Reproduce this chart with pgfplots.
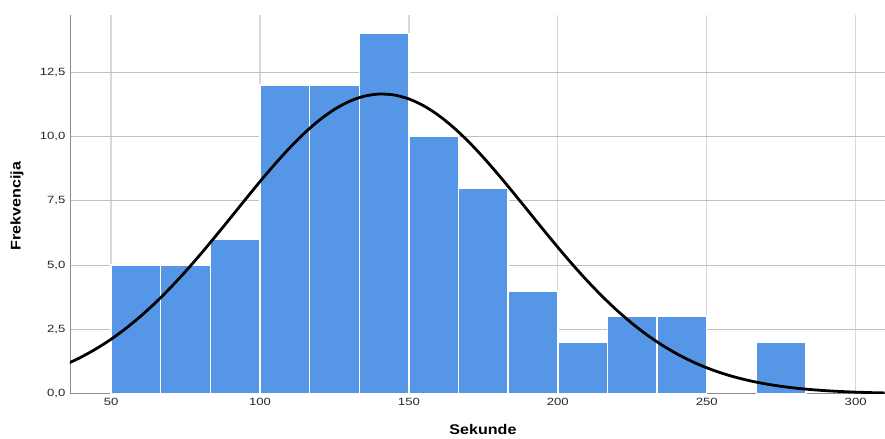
\documentclass[border=0pt]{standalone}
\usepackage{pgfplots}
\pgfplotsset{compat=1.18}
\usepackage{fontspec}
\setmainfont{Liberation Sans}
\newfontfamily\tickfont[FakeStretch=1.25]{Liberation Sans}
\newfontfamily\labfont[FakeStretch=1.15]{Liberation Sans}
\definecolor{barblue}{RGB}{85,150,230}
\definecolor{xgridgray}{RGB}{216,216,216}
\definecolor{ygridgray}{RGB}{192,192,192}
\definecolor{axgray}{RGB}{140,140,140}
\begin{document}
\begin{tikzpicture}
\begin{axis}[
  set layers=standard,
  scale only axis,
  width=815pt, height=379pt,
  at={(0,0)}, anchor=south west,
  xmin=36.2, xmax=309.7,
  ymin=0, ymax=14.72,
  axis x line=bottom, axis y line=left,
  axis line style={-, draw=axgray, line width=0.9pt},
  every outer x axis line/.append style={on layer=axis foreground},
  every outer y axis line/.append style={on layer=axis foreground},
  major tick length=0pt,
  xtick={50,100,150,200,250,300},
  xticklabels={50,100,150,200,250,300},
  ytick={0,2.5,5,7.5,10,12.5},
  yticklabels={{0,0},{2,5},{5,0},{7,5},{10,0},{12,5}},
  xmajorgrids, ymajorgrids,
  x grid style={draw=xgridgray, line width=1.3pt},
  y grid style={draw=ygridgray, line width=0.8pt},
  /pgf/number format/assume math mode=true,
  tick label style={font=\tickfont\fontsize{10.5}{12}\selectfont, text=black!85},
  yticklabel style={xshift=-1pt},
  xticklabel style={yshift=-1pt},
  xlabel={Sekunde},
  ylabel={Frekvencija},
  xlabel style={font=\labfont\bfseries\fontsize{14}{16}\selectfont, at={(axis description cs:0.507,-0.095)}, anchor=center},
  ylabel style={font=\labfont\bfseries\fontsize{14}{16}\selectfont, at={(axis description cs:-0.065,0.495)}, anchor=center},
  clip=true,
]
\addplot[ybar interval, fill=barblue, draw=white, line width=1.4pt, mark=none] coordinates {
  (50,5) (66.667,5) (83.333,6) (100,12) (116.667,12) (133.333,14) (150,10)
  (166.667,8) (183.333,4) (200,2) (216.667,3) (233.333,3) (250,0)
};
\addplot[ybar interval, fill=barblue, draw=white, line width=1.4pt, mark=none] coordinates {
  (266.667,2) (283.333,0)
};
\addplot[black, line width=2.8pt, smooth, mark=none] coordinates {
  (36,1.206) (40,1.428) (45,1.750) (50,2.120) (55,2.544) (60,3.021) (65,3.551)
  (70,4.130) (75,4.755) (80,5.418) (85,6.112) (90,6.822) (95,7.539) (100,8.245)
  (105,8.924) (110,9.560) (115,10.138) (120,10.640) (125,11.052) (130,11.363)
  (135,11.564) (140,11.648) (145,11.612) (150,11.458) (155,11.190) (160,10.816)
  (165,10.348) (170,9.799) (175,9.185) (180,8.520) (185,7.823) (190,7.109)
  (195,6.395) (200,5.693) (205,5.017) (210,4.375) (215,3.777) (220,3.227)
  (225,2.729) (230,2.283) (235,1.892) (240,1.551) (245,1.258) (250,1.011)
  (255,0.804) (260,0.633) (265,0.493) (270,0.380) (275,0.290) (280,0.219)
  (285,0.164) (290,0.121) (295,0.089) (300,0.064) (305,0.046) (310,0.033)
};
\end{axis}
\path[use as bounding box] (-70pt,-41pt) rectangle (815pt,394pt);
\end{tikzpicture}
\end{document}
